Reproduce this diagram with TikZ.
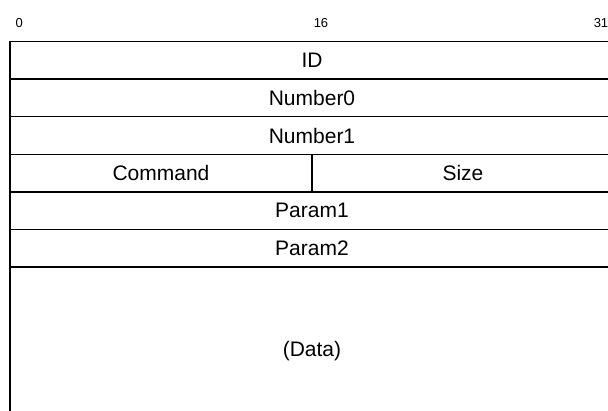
\documentclass[tikz,border=0pt]{standalone}
\usepackage{fontspec}
\setmainfont{Liberation Sans}
\tikzset{
  field/.style={font=\fontsize{21}{23}\selectfont},
  bitno/.style={font=\fontsize{13}{15}\selectfont, anchor=west}
}
\begin{document}
\begin{tikzpicture}[x=1pt,y=-1pt,line width=1.5pt]
\useasboundingbox (0,0) rectangle (608,410);
\clip (0,0) rectangle (608,410);
% bit numbers
\node[bitno, inner sep=0pt] (b0) at (15,23) {0};
\node[bitno, inner sep=0pt] (b16) at (313,23) {16};
\node[bitno, inner sep=0pt] (b31) at (593,23) {31};
% frame, open at the bottom
\draw (10,420) -- (10,41.5) -- (614,41.5) -- (614,420);
\foreach \y in {79.1,116.7,154.3,191.9,229.5,267.1}
  \draw (10,\y) -- (614,\y);
\draw (312,154.3) -- (312,191.9);
% fields
\node[field] (id) at (312,60.3) {ID};
\node[field] (num0) at (312,97.9) {Number0};
\node[field] (num1) at (312,135.5) {Number1};
\node[field] (cmd) at (161,173.1) {Command};
\node[field] (size) at (463,173.1) {Size};
\node[field] (par1) at (312,210.7) {Param1};
\node[field] (par2) at (312,248.3) {Param2};
\node[field] (data) at (312,351) {(Data)};
\end{tikzpicture}
\end{document}
